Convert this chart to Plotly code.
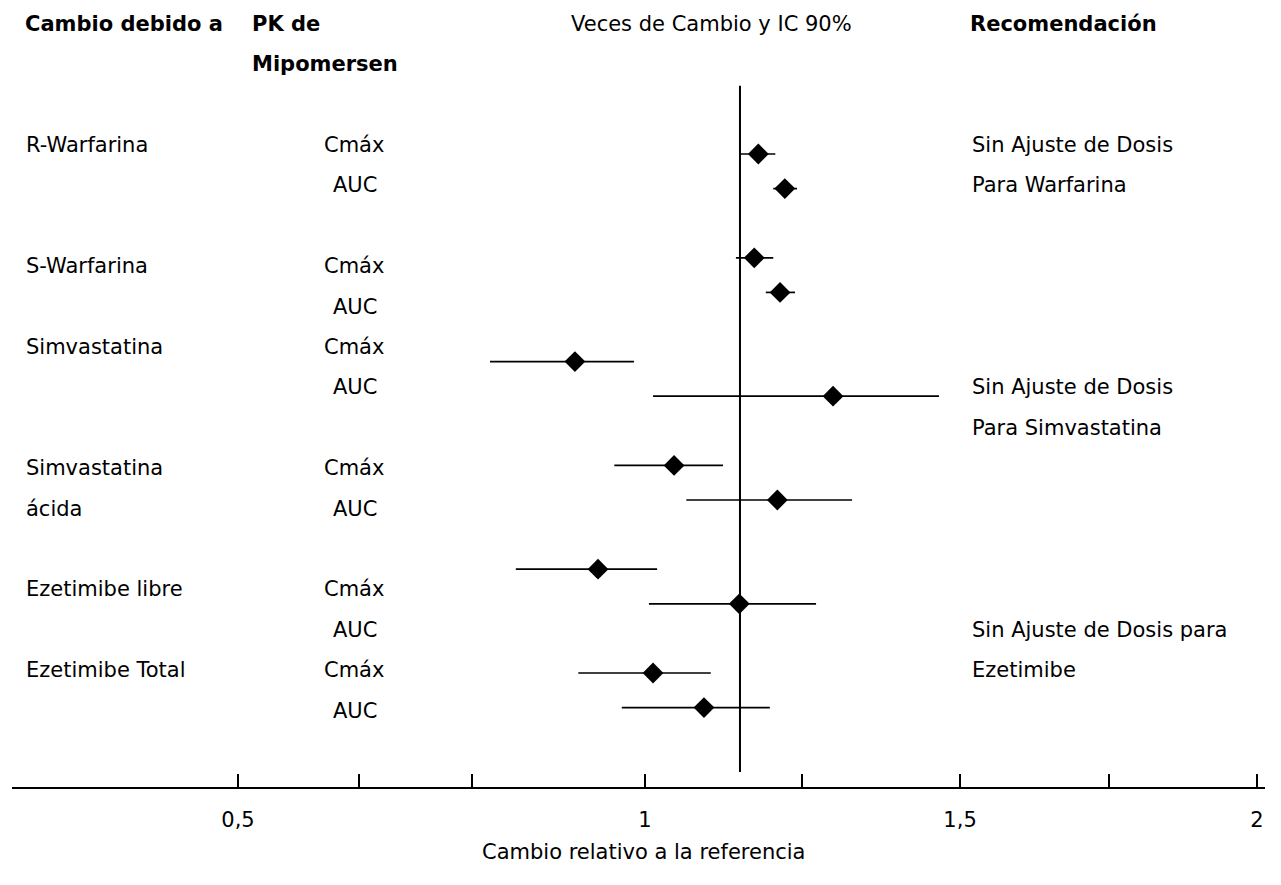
import plotly.graph_objects as go

# ---------------- data ----------------
drugs = ["R-Warfarina", "S-Warfarina", "Simvastatina", "Simvastatina ácida",
         "Ezetimibe libre", "Ezetimibe Total"]
pk_params = ["Cmáx", "AUC"]

# fold change (point estimate) and 90% CI, per drug: [Cmáx, AUC]
ratio = [[1.266, 1.305], [1.260, 1.298], [0.996, 1.376],
         [1.142, 1.294], [1.030, 1.238], [1.111, 1.186]]
ci_low = [[1.240, 1.288], [1.233, 1.277], [0.871, 1.111],
          [1.054, 1.160], [0.909, 1.105], [1.001, 1.065]]
ci_high = [[1.291, 1.323], [1.288, 1.320], [1.083, 1.532],
           [1.214, 1.404], [1.117, 1.351], [1.196, 1.283]]

reference_value = 1.239

tick_vals = [0.5, 0.678, 0.845, 1.099, 1.330, 1.563, 1.782, 2.0]
tick_text = ["0,5", "", "", "1", "", "1,5", "", "2"]

# text table (row index, text)
col1_rows = [(0, "R-Warfarina"), (3, "S-Warfarina"), (5, "Simvastatina"),
             (8, "Simvastatina"), (9, "ácida"), (11, "Ezetimibe libre"),
             (13, "Ezetimibe Total")]
cmax_rows = [0, 3, 5, 8, 11, 13]
auc_rows = [1, 4, 6, 9, 12, 14]
rec_rows = [(0, "Sin Ajuste de Dosis"), (1, "Para Warfarina"),
            (6, "Sin Ajuste de Dosis"), (7, "Para Simvastatina"),
            (12, "Sin Ajuste de Dosis para"), (13, "Ezetimibe")]

FONT = "Verdana, DejaVu Sans, sans-serif"
FS = 21

# ---------------- figure ----------------
fig = go.Figure()

ys, xs, lo, hi = [], [], [], []
for g in range(len(drugs)):
    for k in range(2):
        ys.append(3 * g + k)
        xs.append(ratio[g][k])
        lo.append(ratio[g][k] - ci_low[g][k])
        hi.append(ci_high[g][k] - ratio[g][k])

# reference line
fig.add_trace(go.Scatter(x=[reference_value, reference_value], y=[-1.97, 17.86],
                         mode="lines", line=dict(color="black", width=2),
                         hoverinfo="skip", showlegend=False))

fig.add_trace(go.Scatter(
    x=xs, y=ys, mode="markers",
    marker=dict(symbol="diamond", size=16, color="black"),
    error_x=dict(type="data", symmetric=False, array=hi, arrayminus=lo,
                 color="black", thickness=1.7, width=0),
    showlegend=False))

# page has an 8px body margin -> figure is 16px smaller than the window
W, H = 1265, 869
L, R, T, B = 4, 8, 0, 90
plot_w = W - L - R
plot_h = H - T - B


def px(p):
    # page x pixel -> paper fraction
    return (p - 8 - L) / plot_w


ann = []


def add(text, x, r, bold=False, anchor="left"):
    ann.append(dict(text=f"<b>{text}</b>" if bold else text,
                    x=px(x), y=r, xref="paper", yref="y2",
                    xanchor=anchor, yanchor="middle", showarrow=False,
                    font=dict(family=FONT, size=FS, color="black")))


# headers
add("Cambio debido a", 23, -3, bold=True)
add("PK de", 250, -3, bold=True)
add("Mipomersen", 250, -2, bold=True)
add("Veces de Cambio y IC 90%", 711, -3, anchor="center")
add("Recomendación", 968, -3, bold=True)

for r, t in col1_rows:
    add(t, 24, r)
for r in cmax_rows:
    add("Cmáx", 322, r)
for r in auc_rows:
    add("AUC", 331, r)
for r, t in rec_rows:
    add(t, 970, r)

# x-axis title
ann.append(dict(text="Cambio relativo a la referencia", x=px(643),
                y=(plot_h - (852 - 8)) / plot_h,
                xref="paper", yref="paper", xanchor="center", yanchor="middle",
                showarrow=False, font=dict(family=FONT, size=FS, color="black")))

fig.update_layout(
    width=W, height=H, autosize=False,
    margin=dict(l=L, r=R, t=T, b=B),
    paper_bgcolor="white", plot_bgcolor="white",
    font=dict(family=FONT, size=FS, color="black"),
    xaxis=dict(range=[0.1673, 2.0119], showgrid=False, zeroline=False,
               showline=True, linecolor="black", linewidth=1.5,
               ticks="inside", ticklen=13, tickwidth=2, tickcolor="black",
               tickvals=tick_vals, ticktext=tick_text,
               tickfont=dict(family=FONT, size=FS, color="black"),
               ticklabelstandoff=13),
    yaxis=dict(range=[18.295, -4.220], visible=False),
    yaxis2=dict(range=[15.891, -3.391], overlaying="y", visible=False),
    annotations=ann,
)

fig.write_html("out.html")
